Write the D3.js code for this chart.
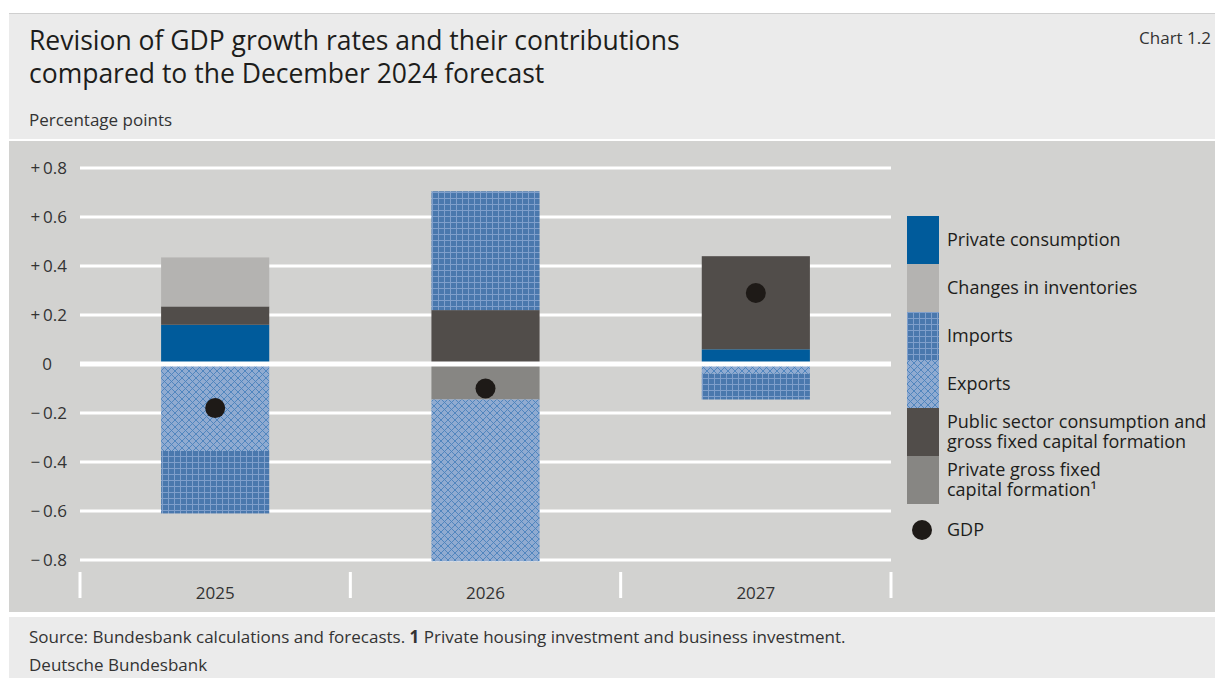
<!DOCTYPE html>
<html>
<head>
<meta charset="utf-8">
<script src="https://cdn.jsdelivr.net/npm/d3@7"></script>
<style>
  html, body { margin: 0; padding: 0; background: #ffffff; }
  svg { display: block; font-family: "Open Sans", "Noto Sans", sans-serif; }
</style>
</head>
<body>
<svg id="chart" width="1215" height="678"></svg>
<script>
// Revision of GDP growth contributions (percentage points)
const years = ["2025", "2026", "2027"];
const privateConsumption = [0.16, 0.00, 0.06];
const inventories        = [0.20, 0.00, 0.00];
const imports            = [-0.255, 0.485, -0.105];
const exports            = [-0.355, -0.66, -0.04];
const publicSector       = [0.075, 0.22, 0.38];
const privateGFCF        = [0.00, -0.145, 0.00];
const gdp                = [-0.18, -0.10, 0.29];
const yTicks = [-0.8, -0.6, -0.4, -0.2, 0, 0.2, 0.4, 0.6, 0.8];

// Legend order
const legendItems = [
  { key: "pc",   lines: ["Private consumption"] },
  { key: "inv",  lines: ["Changes in inventories"] },
  { key: "imp",  lines: ["Imports"] },
  { key: "exp",  lines: ["Exports"] },
  { key: "pub",  lines: ["Public sector consumption and", "gross fixed capital formation"] },
  { key: "pgf",  lines: ["Private gross fixed", "capital formation¹"] }
];
// Stacking order, from the zero line outwards
const stackKeys = ["pc", "pub", "pgf", "inv", "exp", "imp"];

const rows = years.map((y, i) => ({
  year: y,
  pc: privateConsumption[i], inv: inventories[i], imp: imports[i],
  exp: exports[i], pub: publicSector[i], pgf: privateGFCF[i], gdp: gdp[i]
}));

const svg = d3.select("#chart");
const defs = svg.append("defs");

// Imports: blue with a fine light grid
const pImp = defs.append("pattern").attr("id", "pat-imp")
  .attr("patternUnits", "userSpaceOnUse").attr("width", 6).attr("height", 6);
pImp.append("rect").attr("width", 6).attr("height", 6).attr("fill", "#4a78ad");
pImp.append("path").attr("d", "M0.5,0V6M0,0.5H6")
  .attr("stroke", "#7f9fcb").attr("stroke-width", 1).attr("fill", "none");

// Exports: light blue with a diagonal cross-hatch
const pExp = defs.append("pattern").attr("id", "pat-exp")
  .attr("patternUnits", "userSpaceOnUse").attr("width", 7).attr("height", 7);
pExp.append("rect").attr("width", 7).attr("height", 7).attr("fill", "#90abd1");
pExp.append("path").attr("d", "M0,0L7,7M7,0L0,7")
  .attr("stroke", "#4a82bc").attr("stroke-width", 0.9).attr("fill", "none");

const fills = {
  pc: "#005b9b", inv: "#b4b3b1", imp: "url(#pat-imp)", exp: "url(#pat-exp)",
  pub: "#514d4a", pgf: "#878683"
};

// Panels
svg.append("rect").attr("x", 9).attr("y", 13).attr("width", 1206).attr("height", 126).attr("fill", "#ebebeb");
svg.append("line").attr("x1", 9).attr("x2", 1215).attr("y1", 13.5).attr("y2", 13.5).attr("stroke", "#cfcfcf");
svg.append("rect").attr("x", 9).attr("y", 141).attr("width", 1206).attr("height", 471).attr("fill", "#d2d2d0");
svg.append("rect").attr("x", 9).attr("y", 617).attr("width", 1206).attr("height", 61).attr("fill", "#ebebeb");

// Header text
svg.append("text").attr("x", 29).attr("y", 50).attr("font-size", 26.5).attr("fill", "#1d1d1b")
  .text("Revision of GDP growth rates and their contributions");
svg.append("text").attr("x", 29).attr("y", 83).attr("font-size", 26.5).attr("fill", "#1d1d1b")
  .text("compared to the December 2024 forecast");
svg.append("text").attr("x", 1211).attr("y", 44).attr("font-size", 17).attr("fill", "#333")
  .attr("text-anchor", "end").text("Chart 1.2");
svg.append("text").attr("x", 29).attr("y", 126).attr("font-size", 17).attr("fill", "#333")
  .text("Percentage points");

// Scales
const y = d3.scaleLinear().domain([-0.8, 0.8]).range([560, 168]);
const x = d3.scaleBand().domain(years).range([80, 891]).padding(0);
const barW = x.bandwidth() * 0.4;
const barOff = x.bandwidth() * 0.3;

// Gridlines
const g = svg.append("g");
g.selectAll("line.grid").data(yTicks.filter(d => d !== 0)).join("line")
  .attr("x1", 80).attr("x2", 891)
  .attr("y1", d => y(d)).attr("y2", d => y(d))
  .attr("stroke", "#ffffff").attr("stroke-width", 3);

// Y axis labels
const fmt = d => d === 0 ? "0" : (d > 0 ? "+\u2009" : "\u2212\u2009") + Math.abs(d).toFixed(1);
const yAxis = d3.axisLeft(y).tickValues(yTicks).tickFormat(fmt).tickSize(0).tickPadding(0);
const ya = svg.append("g").attr("transform", "translate(67,0)").call(yAxis);
ya.select(".domain").remove();
ya.selectAll("text").attr("font-size", 17).attr("fill", "#333").attr("font-family", "Open Sans, sans-serif");
ya.selectAll(".tick").filter(d => d === 0).select("text").attr("x", -15);

// Stacked bars
const stack = d3.stack().keys(stackKeys).offset(d3.stackOffsetDiverging);
const series = stack(rows);
const bars = svg.append("g");
series.forEach(s => {
  bars.selectAll(null).data(s.filter(d => d[1] !== d[0])).join("rect")
    .attr("x", d => x(d.data.year) + barOff)
    .attr("width", barW)
    .attr("y", d => y(Math.max(d[0], d[1])))
    .attr("height", d => Math.abs(y(d[0]) - y(d[1])))
    .attr("fill", fills[s.key]);
});

// Zero line on top of the bars
svg.append("line").attr("x1", 80).attr("x2", 891)
  .attr("y1", y(0)).attr("y2", y(0))
  .attr("stroke", "#ffffff").attr("stroke-width", 5);

// GDP dots
svg.append("g").selectAll("circle").data(rows).join("circle")
  .attr("cx", d => x(d.year) + x.bandwidth() / 2)
  .attr("cy", d => y(d.gdp))
  .attr("r", 10).attr("fill", "#1e1a17");

// X axis: category separators and labels
const xa = d3.axisBottom(x).tickSize(0).tickPadding(0);
const xg = svg.append("g").attr("transform", "translate(0,599)").call(xa);
xg.select(".domain").remove();
xg.selectAll("text").attr("font-size", 17).attr("fill", "#333").attr("dy", 0)
  .attr("font-family", "Open Sans, sans-serif");
const seps = [x.range()[0], ...years.map(d => x(d) + x.bandwidth())];
svg.append("g").selectAll("line").data(seps).join("line")
  .attr("x1", d => d).attr("x2", d => d).attr("y1", 572).attr("y2", 598)
  .attr("stroke", "#ffffff").attr("stroke-width", 3);

// Legend
const lg = svg.append("g").attr("transform", "translate(907,216)");
const swH = 48;
legendItems.forEach((it, i) => {
  lg.append("rect").attr("x", 0).attr("y", i * swH).attr("width", 32).attr("height", swH)
    .attr("fill", fills[it.key]);
  const n = it.lines.length;
  it.lines.forEach((ln, j) => {
    lg.append("text").attr("x", 40)
      .attr("y", i * swH + swH / 2 + 6 + (j - (n - 1) / 2) * 20)
      .attr("font-size", 18).attr("fill", "#1d1d1b")
      .text(ln);
  });
});
lg.append("circle").attr("cx", 15).attr("cy", 314).attr("r", 10).attr("fill", "#1e1a17");
lg.append("text").attr("x", 40).attr("y", 320).attr("font-size", 18).attr("fill", "#1d1d1b").text("GDP");

// Footer
const src = svg.append("text").attr("x", 29).attr("y", 643).attr("font-size", 17).attr("fill", "#333");
src.append("tspan").text("Source: Bundesbank calculations and forecasts. ");
src.append("tspan").attr("font-weight", "bold").text("1");
src.append("tspan").text(" Private housing investment and business investment.");
svg.append("text").attr("x", 29).attr("y", 671).attr("font-size", 17).attr("fill", "#333")
  .text("Deutsche Bundesbank");
</script>
</body>
</html>
